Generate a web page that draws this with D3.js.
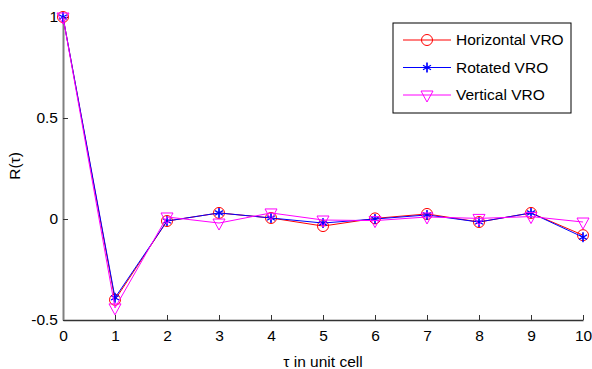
<!DOCTYPE html>
<html>
<head>
<meta charset="utf-8">
<script src="https://cdn.jsdelivr.net/npm/d3@7"></script>
<style>
  body { margin: 0; background: #fff; }
  text { font-family: "Liberation Sans", Arial, sans-serif; }
</style>
</head>
<body>
<div id="chart"></div>
<script>
// chart data
var taus = [0, 1, 2, 3, 4, 5, 6, 7, 8, 9, 10];
var horizontal = [1, -0.40, -0.01, 0.03, 0.005, -0.035, 0.003, 0.025, -0.015, 0.03, -0.08];
var rotated    = [1, -0.39, -0.01, 0.03, 0.005, -0.02, 0.0, 0.02, -0.015, 0.03, -0.09];
var vertical   = [1, -0.44, 0.01, -0.02, 0.03, -0.005, -0.008, 0.01, 0.003, 0.012, -0.015];
var seriesNames = ["Horizontal VRO", "Rotated VRO", "Vertical VRO"];
var xTicks = [0, 1, 2, 3, 4, 5, 6, 7, 8, 9, 10];
var yTicks = [-0.5, 0, 0.5, 1];

var width = 592, height = 369;
var margin = {top: 17, right: 9, bottom: 49, left: 63};

var svg = d3.select("#chart").append("svg")
    .attr("width", width)
    .attr("height", height);

var x = d3.scaleLinear().domain([0, 10]).range([margin.left, width - margin.right]);
var y = d3.scaleLinear().domain([-0.5, 1]).range([height - margin.bottom, margin.top]);

var series = [
  {name: seriesNames[0], values: horizontal, color: "#ff0000", marker: "circle"},
  {name: seriesNames[1], values: rotated, color: "#0000ff", marker: "star"},
  {name: seriesNames[2], values: vertical, color: "#ff00ff", marker: "triangle"}
];

// axes (ticks pointing inward, no box)
var xAxis = d3.axisBottom(x).tickValues(xTicks).tickSizeInner(-5).tickSizeOuter(0).tickPadding(10);
var yAxis = d3.axisLeft(y).tickValues(yTicks).tickSizeInner(-5).tickSizeOuter(0).tickPadding(5)
    .tickFormat(d => d);

var gx = svg.append("g")
    .attr("transform", `translate(0,${height - margin.bottom})`)
    .call(xAxis);
gx.select(".domain").attr("stroke", "#333").attr("stroke-width", 1.5);
gx.selectAll(".tick line").attr("stroke", "#333");
gx.selectAll("text").attr("font-size", 15.5).attr("fill", "#000");

var gy = svg.append("g")
    .attr("transform", `translate(${margin.left},0)`)
    .call(yAxis);
gy.select(".domain").attr("stroke", "#808080").attr("stroke-width", 2);
gy.selectAll(".tick line").attr("stroke", "#333");
gy.selectAll("text").attr("font-size", 15.5).attr("fill", "#000");

// axis titles
svg.append("text")
    .attr("x", (margin.left + width - margin.right) / 2)
    .attr("y", 367)
    .attr("text-anchor", "middle")
    .attr("font-size", 15.5)
    .text("τ in unit cell");

svg.append("text")
    .attr("transform", "translate(20,166) rotate(-90)")
    .attr("text-anchor", "middle")
    .attr("font-size", 15.5)
    .text("R(τ)");

function drawMarker(g, type, color) {
  if (type == "circle") {
    g.append("circle").attr("r", 5.5).attr("fill", "none").attr("stroke", color).attr("stroke-width", 1);
  } else if (type == "star") {
    var p = d3.symbol().type(d3.symbolAsterisk).size(60);
    g.append("path").attr("d", p()).attr("fill", "none").attr("stroke", color).attr("stroke-width", 1.2);
    g.append("path").attr("d", "M0,-5V5").attr("stroke", color).attr("stroke-width", 1.2);
  } else {
    g.append("path").attr("d", "M-6,-4L6,-4L0,7Z").attr("fill", "none").attr("stroke", color).attr("stroke-width", 1);
  }
}

var line = d3.line()
    .x((d, i) => x(taus[i]))
    .y(d => y(d));

series.forEach(function(s) {
  svg.append("path")
      .datum(s.values)
      .attr("fill", "none")
      .attr("stroke", s.color)
      .attr("stroke-width", 1)
      .attr("d", line);

  s.values.forEach(function(v, i) {
    var g = svg.append("g").attr("transform", `translate(${x(taus[i])},${y(v)})`);
    drawMarker(g, s.marker, s.color);
  });
});

// legend
var legend = svg.append("g").attr("transform", "translate(393,23)");
legend.append("rect")
    .attr("width", 178)
    .attr("height", 90)
    .attr("fill", "#fff")
    .attr("stroke", "#000")
    .attr("stroke-width", 1);

series.forEach(function(s, i) {
  var row = legend.append("g").attr("transform", `translate(0,${17 + i * 27.5})`);
  row.append("line").attr("x1", 10).attr("x2", 58).attr("stroke", s.color).attr("stroke-width", 1);
  var m = row.append("g").attr("transform", "translate(34,0)");
  drawMarker(m, s.marker, s.color);
  row.append("text")
      .attr("x", 63)
      .attr("dy", "0.35em")
      .attr("font-size", 15.5)
      .text(s.name);
});
</script>
</body>
</html>
